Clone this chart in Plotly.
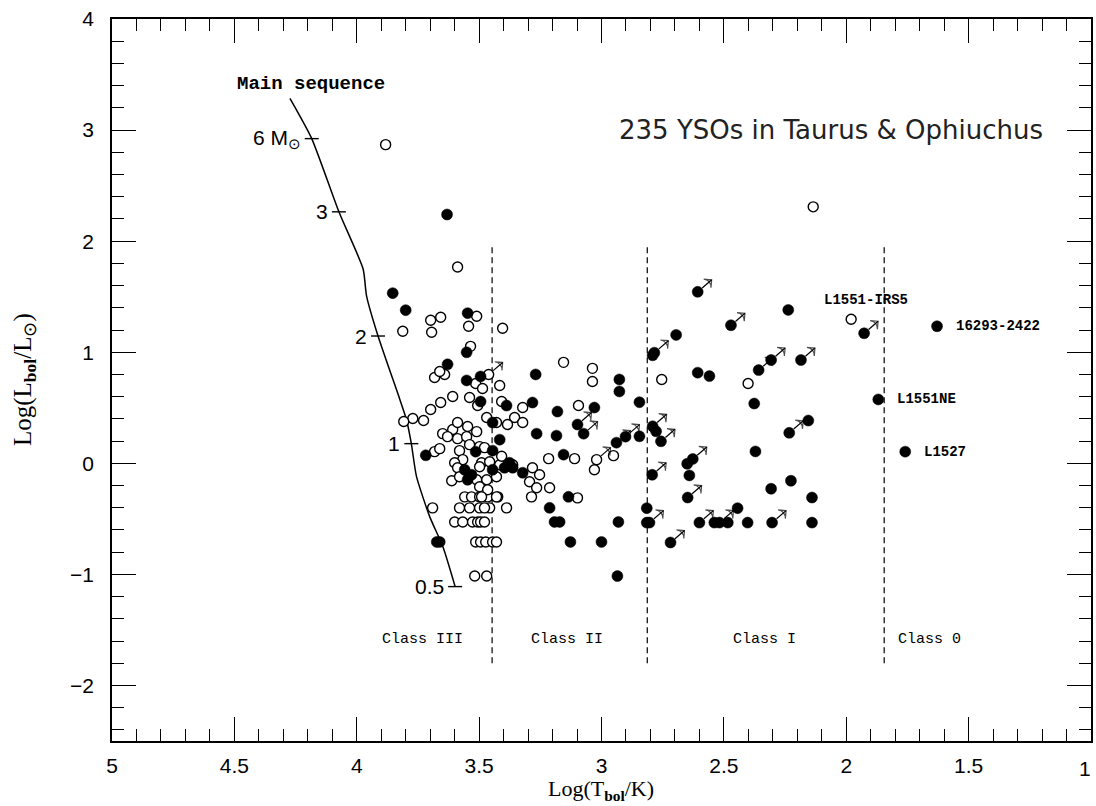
import plotly.graph_objects as go

# ---------------- data (log Tbol, log Lbol) ----------------
open_x = [3.882, 2.135, 1.980, 3.588, 2.754, 2.401,
          3.698, 3.657, 3.812, 3.694, 3.510, 3.543, 3.404, 3.535,
          3.641, 3.682, 3.661, 3.514, 3.486, 3.416, 3.539, 3.506, 3.408,
          3.608, 3.657, 3.698, 3.771, 3.808, 3.727, 3.649, 3.608, 3.588,
          3.547, 3.510, 3.629, 3.588, 3.551, 3.539, 3.580, 3.469, 3.429,
          3.682, 3.661, 3.567, 3.600, 3.490, 3.457, 3.588, 3.498, 3.416,
          3.612, 3.580, 3.510, 3.469, 3.429, 3.498, 3.498,
          3.559, 3.531, 3.498, 3.465, 3.424,
          3.690, 3.580, 3.539, 3.498, 3.457, 3.388,
          3.600, 3.567, 3.527, 3.506, 3.494, 3.478,
          3.514, 3.494, 3.473, 3.445, 3.429,
          3.518, 3.469,
          3.155, 3.037, 3.037, 3.322, 3.355, 3.322, 3.384, 3.094, 3.110,
          3.216, 3.029, 2.951, 3.098, 3.282, 3.253, 3.294, 3.265, 3.286,
          3.212, 3.408, 3.363, 3.478, 3.465, 3.490, 3.429, 3.478]
open_y = [2.869, 2.309, 1.297, 1.767, 0.755, 0.719,
          1.288, 1.315, 1.189, 1.180, 1.324, 1.234, 1.216, 1.053,
          0.800, 0.773, 0.827, 0.719, 0.674, 0.701, 0.593, 0.520, 0.556,
          0.602, 0.547, 0.484, 0.403, 0.376, 0.385, 0.267, 0.304, 0.367,
          0.331, 0.285, 0.240, 0.222, 0.240, 0.168, 0.114, 0.412, 0.367,
          0.105, 0.132, 0.033, 0.005, 0.005, 0.014, -0.040, -0.031, -0.013,
          -0.157, -0.121, -0.148, -0.148, -0.121, -0.211, 0.150,
          -0.302, -0.302, -0.302, -0.302, -0.302,
          -0.401, -0.401, -0.401, -0.401, -0.401, -0.401,
          -0.528, -0.528, -0.528, -0.528, -0.528, -0.528,
          -0.708, -0.708, -0.708, -0.708, -0.708,
          -1.015, -1.015,
          0.909, 0.855, 0.737, 0.502, 0.412, 0.367, 0.349, 0.520, 0.042,
          0.042, -0.058, 0.069, -0.311, -0.040, -0.103, -0.166, -0.220, -0.302,
          -0.220, 0.063, -0.013, 0.141, -0.238, -0.302, -0.302, -0.401]

open_arrow_x = [3.461, 3.020]
open_arrow_y = [0.800, 0.033]

filled_x = [3.631, 3.853, 3.800, 3.547, 3.551, 3.629, 3.551, 3.494, 3.494,
            3.388, 3.718, 3.514, 3.416, 3.445, 3.445, 3.559, 3.531, 3.547,
            3.661, 3.673, 3.445, 3.376, 3.396, 3.363, 3.322,
            3.269, 2.927, 2.927, 2.845, 3.282, 3.180, 3.029, 3.265, 3.184,
            2.845, 3.155, 3.135, 3.212, 3.192, 3.171, 2.931, 3.127, 3.000, 2.935,
            2.237, 2.695, 2.607, 2.559, 2.376, 2.777, 2.155, 2.371, 2.650,
            2.641, 2.226, 2.307, 2.140, 2.815, 2.444, 2.815, 2.539, 2.484,
            2.403, 2.140, 2.791,
            1.869, 1.759, 1.629]
filled_y = [2.240, 1.532, 1.379, 1.352, 0.999, 0.891, 0.746, 0.782, 0.556,
            0.520, 0.072, 0.105, 0.213, 0.367, -0.058, -0.058, -0.103, -0.148,
            -0.708, -0.708, 0.114, 0.005, -0.040, -0.040, -0.085,
            0.800, 0.755, 0.647, 0.550, 0.547, 0.466, 0.502, 0.267, 0.249,
            0.243, 0.078, -0.302, -0.401, -0.528, -0.528, -0.528, -0.708, -0.708, -1.015,
            1.381, 1.156, 0.816, 0.785, 0.538, 0.288, 0.385, 0.107, -0.004,
            -0.109, -0.157, -0.229, -0.308, -0.404, -0.404, -0.534, -0.534, -0.534,
            -0.534, -0.534, 0.972,
            0.575, 0.105, 1.234]

filled_arrow_x = [3.098, 3.073, 2.939, 2.902,
                  2.607, 2.471, 2.784, 2.307, 2.358, 2.185, 2.791, 2.757,
                  2.233, 2.627, 2.793, 2.648, 2.804, 2.600, 2.518, 2.303,
                  2.718, 1.927]
filled_arrow_y = [0.349, 0.267, 0.186, 0.240,
                  1.544, 1.243, 0.996, 0.930, 0.839, 0.930, 0.333, 0.198,
                  0.274, 0.039, -0.103, -0.308, -0.534, -0.534, -0.534, -0.534,
                  -0.713, 1.171]

# main sequence track
ms_x = [4.273, 4.184, 4.073, 3.974, 3.960, 3.913, 3.824, 3.797, 3.777,
        3.756, 3.702, 3.648, 3.598]
ms_y = [3.285, 2.923, 2.264, 1.749, 1.508, 1.146, 0.575, 0.394, 0.177,
        -0.118, -0.480, -0.751, -1.110]
mass_labels = ["6 M<sub>⊙</sub>", "3", "2", "1", "0.5"]
mass_x = [4.184, 4.073, 3.913, 3.777, 3.598]
mass_y = [2.923, 2.264, 1.146, 0.177, -1.110]

# class boundaries (log Tbol) and labels
bound_x = [3.447, 2.813, 1.845]
bound_y = [-1.80, 1.96]
class_names = ["Class III", "Class II", "Class I", "Class 0"]
class_x = [3.731, 3.139, 2.335, 1.661]
class_y = -1.59

src_names = ["16293-2422", "L1551NE", "L1527"]
src_x = [1.629, 1.869, 1.759]
src_y = [1.234, 0.575, 0.105]

# ---------------- layout geometry ----------------
W, H = 1096, 806
ML, MR, MT, MB = 112, 3, 19, 65
XR = [5, 1]
YR = [-2.5, 4]
px_x = (XR[0] - XR[1]) / (W - ML - MR)   # data units per pixel (x, reversed)
px_y = (YR[1] - YR[0]) / (H - MT - MB)   # data units per pixel (y)

fig = go.Figure()

# class boundaries
lx, ly = [], []
for b in bound_x:
    lx += [b, b, None]
    ly += [bound_y[0], bound_y[1], None]
fig.add_trace(go.Scatter(x=lx, y=ly, mode="lines",
                         line=dict(color="black", width=1.2, dash="6px,4px"),
                         hoverinfo="skip"))

# main sequence
fig.add_trace(go.Scatter(x=ms_x, y=ms_y, mode="lines",
                         line=dict(color="black", width=1.5, shape="spline", smoothing=0.6)))
fig.add_trace(go.Scatter(x=mass_x, y=mass_y, mode="markers",
                         marker=dict(symbol="line-ew-open", size=10, color="black",
                                     line=dict(color="black", width=1.4))))

# data points
fig.add_trace(go.Scatter(x=open_x + open_arrow_x, y=open_y + open_arrow_y, mode="markers",
                         marker=dict(symbol="circle", size=10, color="white",
                                     line=dict(color="black", width=1.4))))
fig.add_trace(go.Scatter(x=filled_x + filled_arrow_x, y=filled_y + filled_arrow_y,
                         mode="markers",
                         marker=dict(symbol="circle", size=11, color="black",
                                     line=dict(color="black", width=0.5))))

# arrows (lower limits) drawn up-right from each flagged point
axs, ays, sizes = [], [], []
for x0, y0 in zip(filled_arrow_x + open_arrow_x, filled_arrow_y + open_arrow_y):
    axs += [x0 - 4.5 * px_x, x0 - 14.0 * px_x, None]
    ays += [y0 + 3.8 * px_y, y0 + 12.0 * px_y, None]
    sizes += [0, 8, 0]
fig.add_trace(go.Scatter(x=axs, y=ays, mode="lines+markers",
                         line=dict(color="black", width=1.2),
                         marker=dict(symbol="arrow-wide-open", size=sizes, color="black",
                                     angle=50, angleref="up",
                                     line=dict(color="black", width=1.2)),
                         hoverinfo="skip"))

anns = []
for t, mx, my in zip(mass_labels, mass_x, mass_y):
    anns.append(dict(x=mx, y=my, xref="x", yref="y", text=t, showarrow=False,
                     xanchor="right", yanchor="middle", xshift=-9,
                     font=dict(family="Liberation Sans", size=21, color="black")))

for t, cx in zip(class_names, class_x):
    anns.append(dict(x=cx, y=class_y, xref="x", yref="y", text=t, showarrow=False,
                     font=dict(family="Liberation Mono", size=15, color="black")))

for t, sx, sy in zip(src_names, src_x, src_y):
    anns.append(dict(x=sx, y=sy, xref="x", yref="y", text="<b>" + t + "</b>", showarrow=False,
                     xanchor="left", xshift=17,
                     font=dict(family="Liberation Mono", size=14, color="black")))
anns.append(dict(x=2.098, y=1.469, xref="x", yref="y", text="<b>L1551-IRS5</b>", showarrow=False,
                 xanchor="left", font=dict(family="Liberation Mono", size=14, color="black")))

anns.append(dict(x=4.188, y=3.411, xref="x", yref="y", text="<b>Main sequence</b>",
                 showarrow=False,
                 font=dict(family="Liberation Mono", size=19, color="black")))
anns.append(dict(x=1.19, y=3.004, xref="x", yref="y", text="235 YSOs in Taurus & Ophiuchus",
                 showarrow=False, xanchor="right",
                 font=dict(family="DejaVu Sans", size=26, color="#222")))

# last x tick label at the right edge (x = 1)
anns.append(dict(x=1, y=0, xref="x", yref="paper", yanchor="top", yshift=-14, xshift=-6,
                 text="1", showarrow=False,
                 font=dict(family="Liberation Sans", size=21, color="black")))

anns.append(dict(x=0.499, y=0, xref="paper", yref="paper", yanchor="top", yshift=-33,
                 text="Log(T<sub><b>bol</b></sub>/K)", showarrow=False,
                 font=dict(family="Liberation Serif", size=22, color="black")))
anns.append(dict(x=0, y=0.5, xref="paper", yref="paper", xanchor="center", xshift=-88,
                 textangle=-90, text="Log(L<sub><b>bol</b></sub>/L<sub>⊙</sub>)", showarrow=False,
                 font=dict(family="Liberation Serif", size=25, color="black")))

axis_common = dict(showline=True, linecolor="black", linewidth=1.6, mirror="ticks",
                   ticks="inside", tickcolor="black", tickwidth=1.4, ticklen=24,
                   showgrid=False, zeroline=False,
                   tickfont=dict(family="Liberation Sans", size=21, color="black"))

fig.update_layout(
    width=W, height=H,
    margin=dict(l=ML, r=MR, t=MT, b=MB),
    paper_bgcolor="white", plot_bgcolor="white",
    showlegend=False,
    annotations=anns,
    xaxis=dict(range=XR, tick0=1, dtick=0.5, ticklabelstandoff=5,
               minor=dict(dtick=0.1, ticks="inside", ticklen=12, tickcolor="black",
                          tickwidth=1.2, showgrid=False),
               **axis_common),
    yaxis=dict(range=YR, tick0=0, dtick=1, ticklabelstandoff=12,
               minor=dict(dtick=0.2, ticks="inside", ticklen=12, tickcolor="black",
                          tickwidth=1.2, showgrid=False),
               **axis_common),
)

fig.write_html("out.html",
               config={"displayModeBar": False},
               post_script="document.body.style.margin='0px';"
                           "document.documentElement.style.overflow='hidden';")
